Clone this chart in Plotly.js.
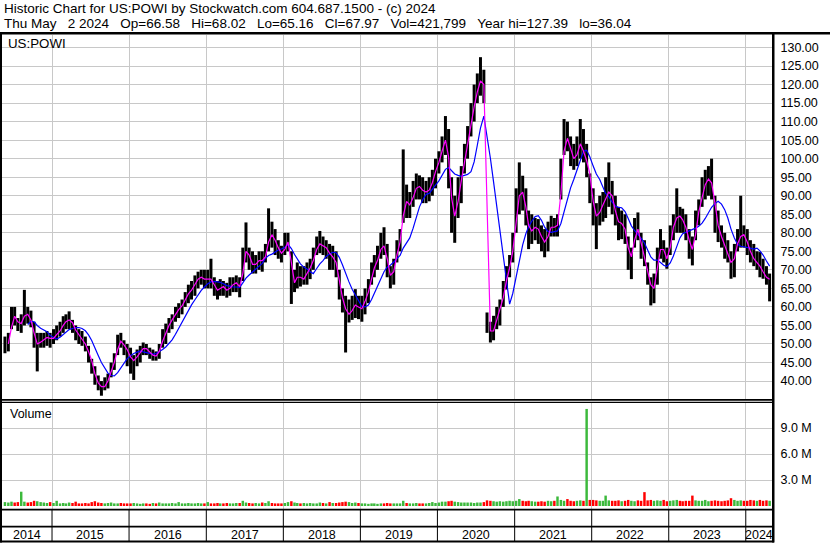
<!DOCTYPE html>
<html><head><meta charset="utf-8">
<script src="https://cdn.plot.ly/plotly-3.0.1.min.js"></script>
<style>html,body{margin:0;padding:0;background:#fff;overflow:hidden}#chart{width:830px;height:543px}</style>
</head><body><div id="chart"></div>
<script>
// semi-monthly periods (date of each bar)
const dates = [
'2014-05-23','2014-06-08','2014-06-23','2014-07-08','2014-07-23','2014-08-08','2014-08-23','2014-09-08','2014-09-23','2014-10-08','2014-10-23','2014-11-08','2014-11-23','2014-12-08','2014-12-23',
'2015-01-08','2015-01-23','2015-02-08','2015-02-23','2015-03-08','2015-03-23','2015-04-08','2015-04-23','2015-05-08','2015-05-23','2015-06-08','2015-06-23','2015-07-08','2015-07-23','2015-08-08','2015-08-23','2015-09-08','2015-09-23','2015-10-08','2015-10-23','2015-11-08','2015-11-23','2015-12-08','2015-12-23',
'2016-01-08','2016-01-23','2016-02-08','2016-02-23','2016-03-08','2016-03-23','2016-04-08','2016-04-23','2016-05-08','2016-05-23','2016-06-08','2016-06-23','2016-07-08','2016-07-23','2016-08-08','2016-08-23','2016-09-08','2016-09-23','2016-10-08','2016-10-23','2016-11-08','2016-11-23','2016-12-08','2016-12-23',
'2017-01-08','2017-01-23','2017-02-08','2017-02-23','2017-03-08','2017-03-23','2017-04-08','2017-04-23','2017-05-08','2017-05-23','2017-06-08','2017-06-23','2017-07-08','2017-07-23','2017-08-08','2017-08-23','2017-09-08','2017-09-23','2017-10-08','2017-10-23','2017-11-08','2017-11-23','2017-12-08','2017-12-23',
'2018-01-08','2018-01-23','2018-02-08','2018-02-23','2018-03-08','2018-03-23','2018-04-08','2018-04-23','2018-05-08','2018-05-23','2018-06-08','2018-06-23','2018-07-08','2018-07-23','2018-08-08','2018-08-23','2018-09-08','2018-09-23','2018-10-08','2018-10-23','2018-11-08','2018-11-23','2018-12-08','2018-12-23',
'2019-01-08','2019-01-23','2019-02-08','2019-02-23','2019-03-08','2019-03-23','2019-04-08','2019-04-23','2019-05-08','2019-05-23','2019-06-08','2019-06-23','2019-07-08','2019-07-23','2019-08-08','2019-08-23','2019-09-08','2019-09-23','2019-10-08','2019-10-23','2019-11-08','2019-11-23','2019-12-08','2019-12-23',
'2020-01-08','2020-01-23','2020-02-08','2020-02-23','2020-03-08','2020-03-23','2020-04-08','2020-04-23','2020-05-08','2020-05-23','2020-06-08','2020-06-23','2020-07-08','2020-07-23','2020-08-08','2020-08-23','2020-09-08','2020-09-23','2020-10-08','2020-10-23','2020-11-08','2020-11-23','2020-12-08','2020-12-23',
'2021-01-08','2021-01-23','2021-02-08','2021-02-23','2021-03-08','2021-03-23','2021-04-08','2021-04-23','2021-05-08','2021-05-23','2021-06-08','2021-06-23','2021-07-08','2021-07-23','2021-08-08','2021-08-23','2021-09-08','2021-09-23','2021-10-08','2021-10-23','2021-11-08','2021-11-23','2021-12-08','2021-12-23',
'2022-01-08','2022-01-23','2022-02-08','2022-02-23','2022-03-08','2022-03-23','2022-04-08','2022-04-23','2022-05-08','2022-05-23','2022-06-08','2022-06-23','2022-07-08','2022-07-23','2022-08-08','2022-08-23','2022-09-08','2022-09-23','2022-10-08','2022-10-23','2022-11-08','2022-11-23','2022-12-08','2022-12-23',
'2023-01-08','2023-01-23','2023-02-08','2023-02-23','2023-03-08','2023-03-23','2023-04-08','2023-04-23','2023-05-08','2023-05-23','2023-06-08','2023-06-23','2023-07-08','2023-07-23','2023-08-08','2023-08-23','2023-09-08','2023-09-23','2023-10-08','2023-10-23','2023-11-08','2023-11-23','2023-12-08','2023-12-23',
'2024-01-08','2024-01-23','2024-02-08','2024-02-23','2024-03-08','2024-03-23','2024-04-08','2024-04-23'
];
const high = [
52,53,60,60,57,58,64.6,60,59,56,53,53,53,53.5,53,
54,55,56,57.5,58,58.8,56.5,55,54,53.5,52,49.5,46,44,41.5,40,41,42,45,47.5,52.5,53,51,50,
49,47,48.5,49.5,50.4,50,49,48.5,48,50,54,55.5,57,58,60,61,62,64,66,67,68.5,69.5,70,70,
70,73,68,67,67.5,67,66.5,68,68,68.5,68,76,82.8,76,75,74,75,75,77,86.6,83,81,78,76.5,
80,80,75,70,72,71,71,72,73,76,79,80.5,79,78,77,76.5,75,70,65,63,62,63,64.8,63,
63,65,67.5,72,74,76.5,80,81.5,77,71,73,78,81,102.5,93,91,94,96,95.5,95,94,95,97,100,
102,106,111.5,108,95,90,95,98,104,108.8,115,120,123,127.39,124,58.5,56,57.6,60,62,67,71,74,80,
92,99,95.4,92,86,85,84,83.7,82,81,83,84.6,84,85,100,110.7,110,106,104,106,110.7,108,104,96,
92,88,90,91,95,99,94,90,87,86,85,79,76,84,85.5,80,78,72,68,69,76,81,78,76,
82,85,92,87,86.5,85,81,79,86,89,95,97,98,100,90,86,82,80,78,75,77,81,90,82,
81,78,77,75,74.8,73,71,69
];
const low = [
47.5,48,54,55,53.5,53,55,55.5,54.5,49,42.6,49,49,49.5,49,
50,51,52,53,54,54,53,51,50,49.5,48,45,42,39,37.5,36.04,37.5,38,41,43,47,49,47,44,
42,40.3,44,45,47,47,46,45.5,45.5,46,49,50,53,54,56,57,58,60,61,62,63,65,66,65,
65,65,63,62,63,63,62.5,63,64,64,62.6,67,72,70,69,69,70,69.5,72,75,76,74,73,72,
74,75,60.8,64,65,65.5,66,66,67.5,70,74,74.5,74,73,70,70,68,62,58.5,47.7,55.8,56.5,57,56.7,
56,58,61,66,68,70,73,74,68,65,66,72,75,82.7,84,84,87,89,89,88,88,88.5,90,92,
96,99,101,92,80,77.3,84,88,96,100,106,110,115,117,115,53,50.4,51,54,55,60,64.7,68,72,
80,85,86,82,75.6,77,78,77,75,73.4,75,79,79,79,89,101,102,98,97,98,100,99,95,88,
82,75.6,82,83,84,87,85,82,78,78.3,77,70,67.5,76,78,73,71,66,60.4,61,66,73,72,70.3,
74,78,80,80,80,78,73,71.2,78,82,87,89,90,89,80,77.5,76,73,72,67.6,68,75,76,76,
74,72,71,70,68,67.6,66,61.5
];
const close = [
49,51,58,57,55,56,59,57,56,50,50,51,51.5,52,51,
52,53,54,56,56,57,54.5,53,52,51,49,47,44,40,39,38,39,41,44,46,51,50.5,49,48,
45,46,47,48.5,49,48.5,47,47,46.5,49.5,52,54,56,57,59,59.5,61,63,64,65,67,68,68,67,
68,67,65,64,66,65,64,66,66,67,64,74,76,72,71,72,73,72,75,80,79,77,75,74,
77,78,66,67,69,67,68,70,71,74,77,77,76,76,73,74,70,64,61,58,58,60,61,59,
60,63,65,70,71,74,77,76,70,67,72,76,79,90,87,88,91,93,92,91,91,92,95,98,
100,104,106,95,84,85,92,96,102,106,112,116,120,122,118,55,52,55,58,60,65,69,72,78,
88,92,90,84,80,81,82,80,78,77,81,82,81,83,98,106,105,101,99,103,105,99,100,92,
85,84,87,88,90,92,88,84,82,83,79,73,74,82,80,75,72,68,64,66,74,77,74,72,
80,83,85,84,83,80,76,75,84,87,92,94,95,92,84,80,78,75,74,70,76,78,80,79,
76,74,72,72,70,69,67,67.97
];
// volume, millions of shares
const volume = [
0.45,0.4,0.5,0.4,0.45,1.65,0.5,0.4,0.45,0.6,0.55,0.45,0.4,0.35,0.45,
0.35,0.6,0.3,0.35,0.3,0.4,0.35,0.5,0.3,0.3,0.35,0.3,0.45,0.55,0.4,0.35,0.3,0.35,0.4,0.3,0.3,0.35,0.3,0.3,
0.3,0.35,0.3,0.25,0.3,0.3,0.25,0.35,0.3,0.4,0.3,0.3,0.3,0.35,0.3,0.45,0.3,0.3,0.35,0.3,0.3,0.35,0.3,0.3,
0.45,0.3,0.3,0.35,0.3,0.3,0.35,0.3,0.3,0.35,0.35,0.6,0.4,0.35,0.3,0.35,0.3,0.4,0.35,0.55,0.35,0.3,0.3,0.3,
0.35,0.45,0.55,0.4,0.35,0.3,0.35,0.3,0.35,0.3,0.3,0.4,0.35,0.3,0.45,0.35,0.35,0.4,0.45,0.5,0.45,0.35,0.4,0.35,
0.3,0.3,0.25,0.3,0.3,0.25,0.3,0.3,0.35,0.3,0.3,0.3,0.3,0.6,0.35,0.3,0.3,0.35,0.3,0.3,0.3,0.35,0.45,0.35,
0.4,0.5,0.5,0.55,0.6,0.5,0.45,0.4,0.4,0.4,0.4,0.35,0.4,0.4,0.45,0.65,0.6,0.55,0.5,0.55,0.5,0.55,0.6,0.55,
0.6,0.8,0.6,0.55,0.6,0.55,0.5,0.5,0.55,0.5,0.6,0.55,0.6,1.1,0.7,0.6,0.8,0.6,0.55,0.6,0.65,0.6,11.2,0.7,
0.7,0.65,0.6,0.6,1.2,0.65,0.6,0.6,0.65,0.55,0.6,0.7,0.6,0.55,0.65,0.6,1.6,0.65,0.7,0.6,0.65,0.6,0.7,0.55,
0.6,0.65,0.7,0.6,0.55,0.6,0.6,1.2,0.65,0.6,0.6,0.7,0.55,0.6,0.65,0.6,0.55,0.6,0.65,0.9,0.7,0.6,0.65,0.6,
0.6,0.7,0.65,0.6,0.7,0.6,0.65,0.6
];
const yearLabels = ['2014','2015','2016','2017','2018','2019','2020','2021','2022','2023','2024'];
const priceTicks = [40,45,50,55,60,65,70,75,80,85,90,95,100,105,110,115,120,125,130];
const volTickVals = [3, 6, 9];
const volTickText = ['3.0 M', '6.0 M', '9.0 M'];
const header1 = 'Historic Chart for US:POWI by Stockwatch.com 604.687.1500 - (c) 2024';
const header2 = 'Thu May   2 2024   Op=66.58   Hi=68.02   Lo=65.16   Cl=67.97   Vol=421,799   Year hi=127.39   lo=36.04';
const symbolLabel = 'US:POWI';
const volumeLabel = 'Volume';
const maShort = 2, maLong = 8;   // periods (semi-monthly) ~ 20-day and ~90-day

[high, low, close, volume].forEach(a => { if (a.length !== dates.length) throw new Error('length mismatch ' + a.length + ' vs ' + dates.length); });

function sma(arr, n) {
  return arr.map((v, i) => i < n - 1 ? null : arr.slice(i - n + 1, i + 1).reduce((a, b) => a + b, 0) / n);
}

const bx = [], by = [];
dates.forEach((d, i) => { bx.push(d, d, null); by.push(low[i], high[i], null); });
const volColors = close.map((c, i) => (i === 0 || c >= close[i - 1]) ? '#3cb93c' : '#ff0000');

const W = 830, H = 543, L = 2, R = 57, T = 35, B = 34;
const PW = W - L - R, PH = H - T - B;
const fx = px => (px - L) / PW;
const fy = py => (H - B - py) / PH;
const FONT = 'Liberation Sans, Arial, sans-serif';
const nb = s => s.replace(/ /g, '\u00a0');

const traces = [
  {type: 'scatter', mode: 'lines', x: bx, y: by, xaxis: 'x', yaxis: 'y',
   line: {color: '#000000', width: 3}, hoverinfo: 'skip', connectgaps: false},
  {type: 'scatter', mode: 'lines', x: dates, y: sma(close, maLong), xaxis: 'x', yaxis: 'y',
   line: {color: '#0000ff', width: 1.2}, hoverinfo: 'skip'},
  {type: 'scatter', mode: 'lines', x: dates, y: sma(close, maShort), xaxis: 'x', yaxis: 'y',
   line: {color: '#ff00ff', width: 1.2}, hoverinfo: 'skip'},
  {type: 'bar', x: dates, y: volume, xaxis: 'x', yaxis: 'y2',
   marker: {color: volColors, line: {width: 0}}, hoverinfo: 'skip'}
];

const rangeStart = '2014-05-09', rangeEnd = '2024-05-09';
const shapes = [];
function rect(x0, x1, y0, y1) {
  shapes.push({type: 'rect', xref: 'paper', yref: 'paper', x0: fx(x0), x1: fx(x1), y0: fy(y1), y1: fy(y0),
    fillcolor: '#000', line: {width: 0}, layer: 'above'});
}
rect(0, 830, 32, 34.5);      // header separator
rect(0, 2, 32, 542.5);       // left border
rect(772, 774.5, 32, 542.5); // right axis border
rect(0, 774, 399, 400.8);    // price bottom
rect(0, 774, 401.8, 403);    // volume top
rect(0, 774, 508.8, 510.5);  // volume bottom
rect(0, 774, 525.8, 527.5);  // date row divider
rect(0, 774, 540.5, 542.5);  // bottom
for (let y = 2015; y <= 2024; y++) {
  shapes.push({type: 'line', xref: 'x', yref: 'paper', x0: y + '-01-01', x1: y + '-01-01',
    y0: fy(541), y1: fy(510), line: {color: '#000', width: 1}, layer: 'above'});
}

const annotations = [
  {text: nb(header1), xref: 'paper', yref: 'paper', x: fx(2), y: fy(8.5), xanchor: 'left', yanchor: 'middle',
   showarrow: false, font: {family: FONT, size: 13.5, color: '#000'}},
  {text: nb(header2), xref: 'paper', yref: 'paper', x: fx(2), y: fy(23.5), xanchor: 'left', yanchor: 'middle',
   showarrow: false, font: {family: FONT, size: 13.5, color: '#000'}},
  {text: nb(symbolLabel), xref: 'paper', yref: 'paper', x: fx(6), y: fy(43), xanchor: 'left', yanchor: 'middle',
   showarrow: false, font: {family: FONT, size: 13.3, color: '#000'}},
  {text: nb(volumeLabel), xref: 'paper', yref: 'paper', x: fx(8), y: fy(413.5), xanchor: 'left', yanchor: 'middle',
   showarrow: false, font: {family: FONT, size: 12.5, color: '#000'}}
];
const t0 = Date.parse(rangeStart), t1 = Date.parse(rangeEnd);
yearLabels.forEach((lab) => {
  const ys = Math.max(t0, Date.parse(lab + '-01-01'));
  const ye = Math.min(t1, Date.parse((+lab + 1) + '-01-01'));
  const mid = new Date((ys + ye) / 2).toISOString().slice(0, 10);
  annotations.push({text: lab, xref: 'x', yref: 'paper', x: mid, y: fy(534.5), xanchor: 'center', yanchor: 'middle',
    showarrow: false, font: {family: FONT, size: 12.5, color: '#000'}});
});

const priceTop = 130 + (47.5 - T) / 3.706;
const priceBot = 130 - (400 - 47.5) / 3.706;
const volPx = 26 / 3;           // px per million
const volTop = (506 - 402) / volPx, volBot = -(509 - 506) / volPx;

const layout = {
  width: W, height: H, margin: {l: L, r: R, t: T, b: B, pad: 0},
  paper_bgcolor: '#ffffff', plot_bgcolor: '#ffffff', showlegend: false, bargap: 0.1,
  font: {family: FONT, color: '#000'},
  xaxis: {type: 'date', range: [rangeStart, rangeEnd], anchor: 'y2', showgrid: true, gridcolor: '#c8c8c8', gridwidth: 1,
    tick0: '2015-01-01', dtick: 'M12', showticklabels: false, ticks: '', zeroline: false, showline: false, fixedrange: true},
  yaxis: {domain: [fy(400), 1], range: [priceBot, priceTop], side: 'right', anchor: 'x',
    tickmode: 'array', tickvals: priceTicks, ticktext: priceTicks.map(v => v.toFixed(2)),
    showgrid: true, gridcolor: '#c8c8c8', gridwidth: 1, zeroline: false, showline: false,
    ticks: 'outside', ticklen: 4, tickcolor: 'rgba(0,0,0,0)', tickfont: {family: FONT, size: 12.5, color: '#000'}},
  yaxis2: {domain: [0, fy(402)], range: [volBot, volTop], side: 'right', anchor: 'x', tickvals: volTickVals, ticktext: volTickText,
    showgrid: true, gridcolor: '#c8c8c8', gridwidth: 1, zeroline: false, showline: false,
    ticks: 'outside', ticklen: 4, tickcolor: 'rgba(0,0,0,0)', tickfont: {family: FONT, size: 12.5, color: '#000'}},
  shapes: shapes, annotations: annotations
};

Plotly.newPlot('chart', traces, layout, {staticPlot: true, displayModeBar: false});
</script>
</body></html>
